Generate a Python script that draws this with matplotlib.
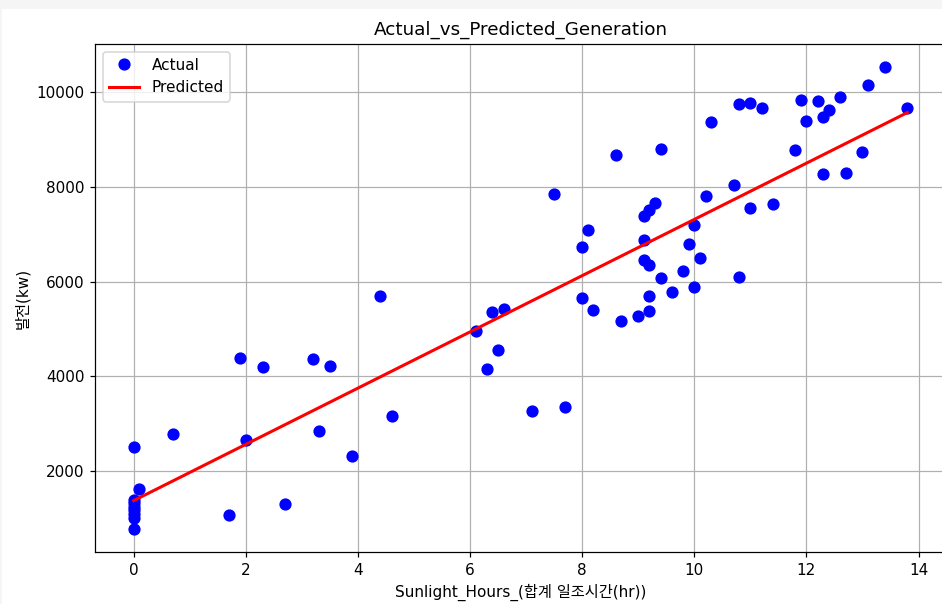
import matplotlib
matplotlib.use("Agg")
import matplotlib.pyplot as plt
from matplotlib.patches import Rectangle

plt.rcParams['font.family'] = ['DejaVu Sans', 'Noto Sans CJK KR']

sunlight_hours = [
    0, 0, 0, 0, 0, 0, 0, 0, 0.1, 0.7, 1.7, 1.9, 2.0, 2.3, 2.7, 3.2, 3.3, 3.5, 3.9,
    4.4, 4.6, 6.1, 6.3, 6.4, 6.5, 6.6, 7.1, 7.5, 7.7, 8.0, 8.0, 8.1, 8.2, 8.6,
    8.7, 9.0, 9.1, 9.1, 9.1, 9.2, 9.2, 9.2, 9.2, 9.3, 9.4, 9.4, 9.6, 9.8, 9.9,
    10.0, 10.0, 10.1, 10.2, 10.3, 10.7, 10.8, 10.8, 11.0, 11.0, 11.2, 11.4,
    11.8, 11.9, 12.0, 12.2, 12.3, 12.3, 12.4, 12.6, 12.7, 13.0, 13.1, 13.4, 13.8,
]
generation_kw = [
    2500, 1400, 1330, 1250, 1170, 1090, 1010, 780, 1620, 2780, 1080, 4380, 2660,
    4200, 1315, 4360, 2850, 4225, 2320,
    5690, 3170, 4970, 4150, 5355, 4565, 5435, 3265, 7850, 3355, 6735, 5665,
    7090, 5405, 8670,
    5180, 5270, 7390, 6875, 6460, 7525, 6360, 5385, 5690, 7665, 8810, 6085,
    5780, 6225, 6790,
    7210, 5895, 6500, 7810, 9370, 8040, 9765, 6110, 9785, 7555, 9675, 7645,
    8790, 9835, 9400, 9810, 9475, 8275, 9625, 9905, 8295, 8740, 10160, 10535, 9675,
]
pred_x = [0, 13.8]
pred_y = [1378, 9574]

DPI = 110
fig = plt.figure(figsize=(942 / DPI, 604 / DPI), dpi=DPI, facecolor='#f5f5f5')
fig.patches.append(Rectangle((2 / 942, 0), 1, (604 - 9) / 604,
                             transform=fig.transFigure, facecolor='white',
                             edgecolor='none', zorder=-1))
ax = fig.add_axes([95 / 942, 52 / 604, 851 / 942, 508 / 604])

ax.plot(sunlight_hours, generation_kw, 'o', color='blue', markersize=7, label='Actual')
ax.plot(pred_x, pred_y, '-', color='red', linewidth=2, label='Predicted')

ax.set_title('Actual_vs_Predicted_Generation', fontsize=12)
ax.set_xlabel('Sunlight_Hours_(합계 일조시간(hr))')
ax.set_ylabel('발전(kw)')
ax.grid(True)
ax.legend(loc='upper left')

fig.savefig('out.png', dpi=DPI, facecolor=fig.get_facecolor())
